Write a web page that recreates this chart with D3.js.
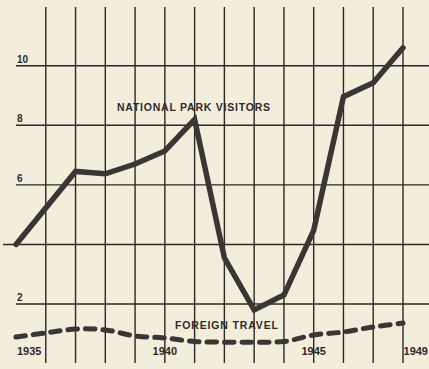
<!DOCTYPE html>
<html>
<head>
<meta charset="utf-8">
<script src="https://cdn.jsdelivr.net/npm/d3@7"></script>
<style>
  html, body { margin: 0; padding: 0; background: #f3eedc; }
  svg { display: block; }
  text { font-family: "Liberation Sans", Arial, sans-serif; font-weight: bold; fill: #2e2b29; }
</style>
</head>
<body>
<svg id="chart" width="429" height="369"></svg>
<script>
//
// Data
//

// national park visitors (millions), vertices as drawn
var parkYears = [1935, 1937, 1938, 1939, 1940, 1941, 1942, 1943, 1944, 1945, 1946, 1947, 1948]
var parkValues = [4.0, 6.45, 6.37, 6.7, 7.14, 8.2, 3.55, 1.8, 2.3, 4.47, 8.96, 9.43, 10.6]
// foreign travel
var travelYears = [1935, 1936, 1937, 1938, 1939, 1940, 1941, 1942, 1943, 1944, 1945, 1946, 1947, 1948]
var travelValues = [0.89, 1.03, 1.16, 1.13, 0.93, 0.86, 0.74, 0.72, 0.72, 0.74, 0.96, 1.06, 1.23, 1.36]
// grid and labels
var gridYears = [1936, 1937, 1938, 1939, 1940, 1941, 1942, 1943, 1944, 1945, 1946, 1947, 1948]
var gridValues = [2, 4, 6, 8, 10]
var valueLabels = [2, 6, 8, 10]
var yearLabels = [1935, 1940, 1945, 1949]

//
// Configuration
//

var width = 429
var height = 369
var colorInk = '#2b2826'
var colorLine = '#3a3634'

//
// Scales
//

var svg = d3.select('#chart')
var x = d3.scaleLinear().domain([1935, 1948]).range([16, 403])
var y = d3.scaleLinear().domain([0, 10]).range([363.6, 65.7])

//
// Grid
//

svg.append('g').selectAll('line')
  .data(gridYears)
  .join('line')
  .attr('x1', d => x(d)).attr('x2', d => x(d))
  .attr('y1', 7).attr('y2', 363)
  .attr('stroke', colorInk)
  .attr('stroke-width', 1.4)

svg.append('g').selectAll('line')
  .data(gridValues)
  .join('line')
  .attr('x1', d => d === 4 ? 3 : 16).attr('x2', width)
  .attr('y1', d => y(d)).attr('y2', d => y(d))
  .attr('stroke', colorInk)
  .attr('stroke-width', 1.4)

svg.append('g').selectAll('text')
  .data(valueLabels)
  .join('text')
  .attr('x', 17)
  .attr('y', d => y(d) - 3)
  .attr('font-size', 10)
  .text(d => d)

// first label starts at its year, last one is kept inside the frame
svg.append('g').selectAll('text')
  .data(yearLabels)
  .join('text')
  .attr('x', d => d === 1935 ? x(d) + 1 : Math.min(x(d), width - 1))
  .attr('y', 355)
  .attr('font-size', 11)
  .attr('text-anchor', (d, i) => i === 0 ? 'start' : (i === yearLabels.length - 1 ? 'end' : 'middle'))
  .text(d => d)

//
// Series
//

var parkLine = d3.line()
  .x((d, i) => x(parkYears[i]))
  .y(d => y(d))

var travelLine = d3.line()
  .x((d, i) => x(travelYears[i]))
  .y(d => y(d))
  .curve(d3.curveCatmullRom)

svg.append('path')
  .attr('d', travelLine(travelValues))
  .attr('fill', 'none')
  .attr('stroke', colorLine)
  .attr('stroke-width', 5)
  .attr('stroke-linecap', 'round')
  .attr('stroke-dasharray', '9.5 8')

svg.append('path')
  .attr('d', parkLine(parkValues))
  .attr('fill', 'none')
  .attr('stroke', colorLine)
  .attr('stroke-width', 5.5)
  .attr('stroke-linecap', 'round')
  .attr('stroke-linejoin', 'miter')

//
// Annotations
//

svg.append('text')
  .attr('x', 117).attr('y', 110.5)
  .attr('font-size', 10.5)
  .attr('textLength', 153)
  .attr('lengthAdjust', 'spacing')
  .text('NATIONAL PARK VISITORS')

svg.append('text')
  .attr('x', 175).attr('y', 328.5)
  .attr('font-size', 10.5)
  .attr('textLength', 103)
  .attr('lengthAdjust', 'spacing')
  .text('FOREIGN TRAVEL')
</script>
</body>
</html>
